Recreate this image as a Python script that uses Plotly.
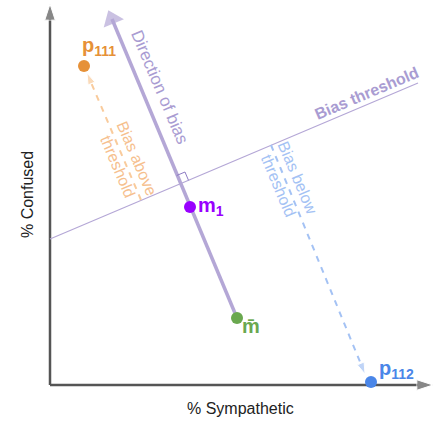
import plotly.graph_objects as go

# Data (in chart units: x = % Sympathetic scale, y = % Confused scale)
point_names = ["p111", "m1", "mbar", "p112"]
point_x = [34, 140, 187, 321]
point_y = [319, 178, 67, 3]
point_colors = ["#E69138", "#9900FF", "#6AA84F", "#4A86E8"]
point_labels = ["p<sub>111</sub>", "m<sub>1</sub>", "m\u0304", "p<sub>112</sub>"]
label_x = [49, 161, 201, 346]
label_y = [339, 179, 59, 16]

bias_dir_x = [187, 62]
bias_dir_y = [67, 366]
threshold_x = [0, 368]
threshold_y = [146, 302]
above_x = [91, 37]
above_y = [185, 312]
below_x = [221, 315]
below_y = [240, 11]

axis_x_end = 383
axis_y_end = 381

LAV = "#B4A7D6"
FONT = "Liberation Sans, Arial, sans-serif"

fig = go.Figure()

# axes arrows
fig.add_trace(go.Scatter(x=[0, 0], y=[0, axis_y_end], mode="lines+markers",
                         line=dict(color="#555555", width=2.5),
                         marker=dict(symbol="arrow", size=[0, 17], angleref="previous", color="#555555"),
                         hoverinfo="skip", showlegend=False, cliponaxis=False))
fig.add_trace(go.Scatter(x=[0, axis_x_end], y=[0, 0], mode="lines+markers",
                         line=dict(color="#555555", width=2.5),
                         marker=dict(symbol="arrow", size=[0, 17], angleref="previous", color="#555555"),
                         hoverinfo="skip", showlegend=False, cliponaxis=False))

# threshold line
fig.add_trace(go.Scatter(x=threshold_x, y=threshold_y, mode="lines",
                         line=dict(color=LAV, width=1.2), hoverinfo="skip", showlegend=False))

# direction of bias
fig.add_trace(go.Scatter(x=bias_dir_x, y=bias_dir_y, mode="lines+markers",
                         line=dict(color=LAV, width=3.5),
                         marker=dict(symbol="triangle-up", size=[0, 19], angleref="previous",
                                     color=LAV, line=dict(width=0)),
                         hoverinfo="skip", showlegend=False, cliponaxis=False))

# dashed arrows
fig.add_trace(go.Scatter(x=above_x, y=above_y, mode="lines+markers",
                         line=dict(color="#F9CB9C", width=2, dash="6px,6px"),
                         marker=dict(symbol="arrow", size=[0, 12], angleref="previous", color="#F9CB9C"),
                         hoverinfo="skip", showlegend=False))
fig.add_trace(go.Scatter(x=below_x, y=below_y, mode="lines+markers",
                         line=dict(color="#A4C2F4", width=2, dash="6px,6px"),
                         marker=dict(symbol="arrow", size=[0, 12], angleref="previous", color="#A4C2F4"),
                         hoverinfo="skip", showlegend=False))

# right-angle marker
ix, iy = 130.2, 201.2
ub = (-0.39, 0.921)
ut = (0.921, 0.39)
a = 9
sq_x = [ix + a * ub[0], ix + a * ub[0] + a * ut[0], ix + a * ut[0]]
sq_y = [iy + a * ub[1], iy + a * ub[1] + a * ut[1], iy + a * ut[1]]
fig.add_trace(go.Scatter(x=sq_x, y=sq_y, mode="lines",
                         line=dict(color="#8E7CC3", width=1), hoverinfo="skip", showlegend=False))

# points
fig.add_trace(go.Scatter(x=point_x, y=point_y, mode="markers",
                         marker=dict(color=point_colors, size=12),
                         text=point_names, hoverinfo="text", showlegend=False, cliponaxis=False))

for lx, ly, lt, c in zip(label_x, label_y, point_labels, point_colors):
    fig.add_annotation(x=lx, y=ly, text="<b>" + lt + "</b>", showarrow=False,
                       font=dict(family=FONT, size=20, color=c))

# rotated labels
fig.add_annotation(x=110, y=298, text="Direction of bias", textangle=67, showarrow=False,
                   font=dict(family=FONT, size=17, color="#A99CD2"))
fig.add_annotation(x=316, y=292, text="<b>Bias threshold</b>", textangle=-23, showarrow=False,
                   font=dict(family=FONT, size=16, color="#A99CD2"))
fig.add_annotation(x=77, y=223, text="Bias above<br>threshold", textangle=67, showarrow=False,
                   font=dict(family=FONT, size=16, color="#F6C08E"))
fig.add_annotation(x=238, y=203, text="Bias below<br>threshold", textangle=67, showarrow=False,
                   font=dict(family=FONT, size=16, color="#A4C2F4"))

# axis titles
fig.add_annotation(x=-23, y=190, text="% Confused", textangle=-90, showarrow=False,
                   font=dict(family=FONT, size=16, color="#222222"))
fig.add_annotation(x=190, y=-23, text="% Sympathetic", showarrow=False,
                   font=dict(family=FONT, size=16, color="#222222"))

fig.update_xaxes(range=[-50, 384], visible=False, fixedrange=True)
fig.update_yaxes(range=[-36, 385], visible=False, fixedrange=True)
fig.update_layout(width=434, height=421, margin=dict(l=0, r=0, t=0, b=0),
                  plot_bgcolor="white", paper_bgcolor="white", autosize=False)

fig.write_html("out.html", config={"displayModeBar": False},
               post_script="document.body.style.margin='0';document.body.style.overflow='hidden';")
